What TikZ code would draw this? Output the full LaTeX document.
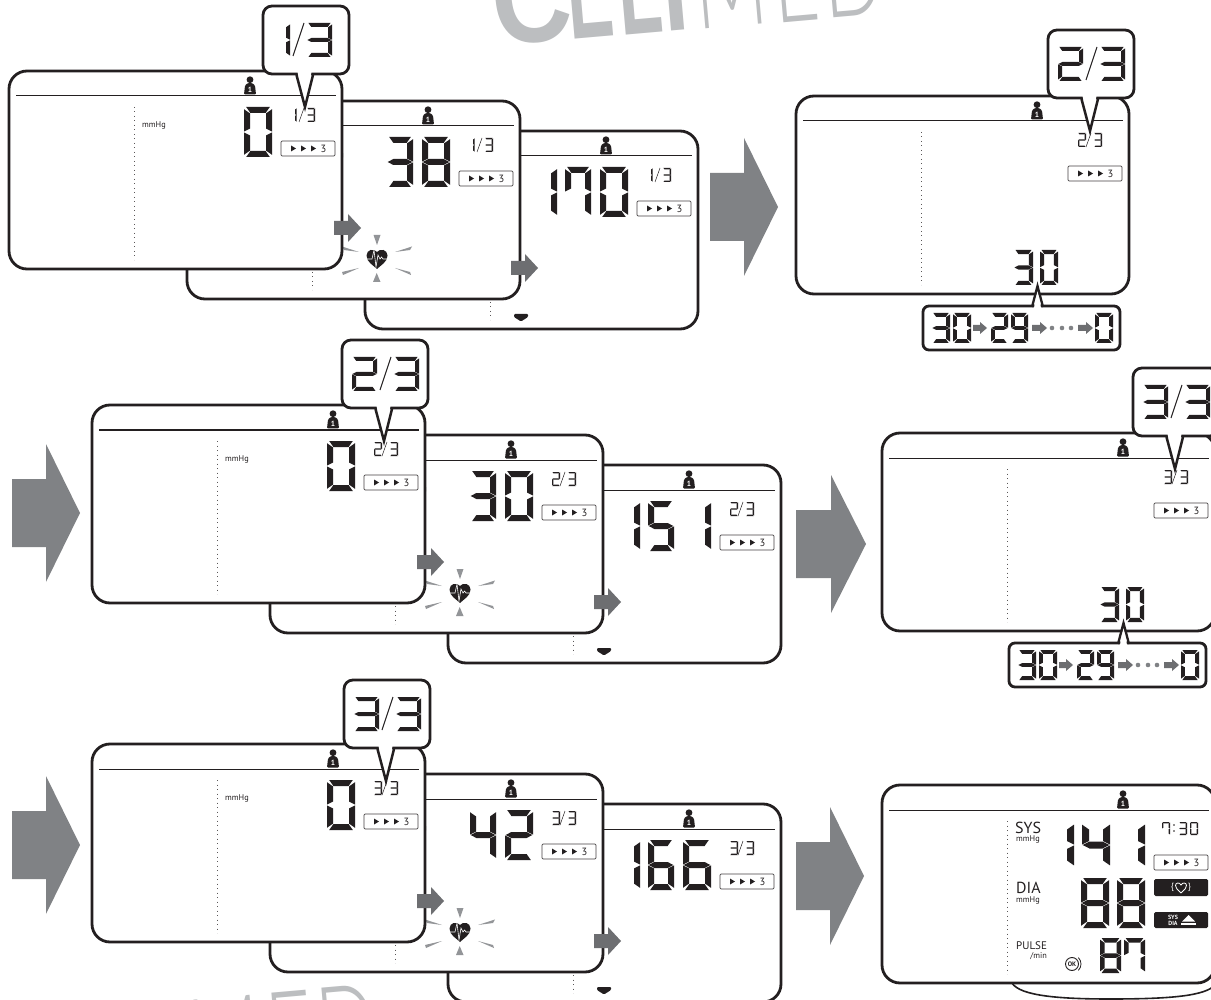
\documentclass[tikz,border=0pt]{standalone}
\usepackage{fontspec}
\setmainfont{PT Sans}
\newfontfamily\wmbold{Liberation Sans}
\newfontfamily\wmlight{Lato Light}
\definecolor{lcd}{HTML}{231F20}
\definecolor{wmgray}{HTML}{BCBEC0}
\definecolor{bigar}{HTML}{808285}
\definecolor{smar}{HTML}{6D6E71}
\definecolor{raygray}{HTML}{939598}
\tikzset{
  panelbox/.style={draw=lcd,fill=white,line width=2.8pt,rounded corners=18pt},
  callbox/.style={draw=lcd,fill=white,line width=2.8pt,rounded corners=9pt},
  headline/.style={draw=lcd,line width=1pt},
  dotline/.style={draw=lcd!75,line width=.9pt,dash pattern=on .9pt off 3.6pt},
  wmbig/.style={text=wmgray,inner sep=0pt,anchor=base west,font=\wmbold\bfseries\fontsize{130}{130}\selectfont},
  wmthin/.style={text=wmgray,inner sep=0pt,anchor=base west,font=\wmlight\fontsize{130}{130}\selectfont},
}
\expandafter\def\csname dg0\endcsname{a,b,c,d,e,f}
\expandafter\def\csname dg1\endcsname{b,c}
\expandafter\def\csname dg2\endcsname{a,b,g,e,d}
\expandafter\def\csname dg3\endcsname{a,b,g,c,d}
\expandafter\def\csname dg4\endcsname{f,g,b,c}
\expandafter\def\csname dg5\endcsname{a,f,g,c,d}
\expandafter\def\csname dg6\endcsname{a,f,g,c,d,e}
\expandafter\def\csname dg7\endcsname{a,b,c,f}
\expandafter\def\csname dg8\endcsname{a,b,c,d,e,f,g}
\expandafter\def\csname dg9\endcsname{a,b,c,d,f,g}
\newcommand{\sega}{\fill[lcd] (\dC,0) -- ({\dW-\dC},0) -- ({\dW-\dT-\dG},\dT) -- ({\dT+\dG},\dT) -- cycle;}
\newcommand{\segd}{\fill[lcd] (\dC,\dH) -- ({\dW-\dC},\dH) -- ({\dW-\dT-\dG},{\dH-\dT}) -- ({\dT+\dG},{\dH-\dT}) -- cycle;}
\newcommand{\segf}{\fill[lcd] (0,\dC) -- (\dT,{\dT+\dG}) -- (\dT,{\dH/2-\dT/2-\dG}) -- (0,{\dH/2-\dG}) -- cycle;}
\newcommand{\sege}{\fill[lcd] (0,{\dH-\dC}) -- (\dT,{\dH-\dT-\dG}) -- (\dT,{\dH/2+\dT/2+\dG}) -- (0,{\dH/2+\dG}) -- cycle;}
\newcommand{\segb}{\fill[lcd] (\dW,\dC) -- ({\dW-\dT},{\dT+\dG}) -- ({\dW-\dT},{\dH/2-\dT/2-\dG}) -- (\dW,{\dH/2-\dG}) -- cycle;}
\newcommand{\segc}{\fill[lcd] (\dW,{\dH-\dC}) -- ({\dW-\dT},{\dH-\dT-\dG}) -- ({\dW-\dT},{\dH/2+\dT/2+\dG}) -- (\dW,{\dH/2+\dG}) -- cycle;}
\newcommand{\segg}{\fill[lcd] ({\dG+.2},{\dH/2}) -- ({\dT+\dG},{\dH/2-\dT/2}) -- ({\dW-\dT-\dG},{\dH/2-\dT/2}) -- ({\dW-\dG-.2},{\dH/2}) -- ({\dW-\dT-\dG},{\dH/2+\dT/2}) -- ({\dT+\dG},{\dH/2+\dT/2}) -- cycle;}
\newcommand{\sd}[6]{%
  \begin{scope}[shift={(#1,#2)}]
    \def\dW{#3}\def\dH{#4}\def\dT{#5}%
    \pgfmathsetmacro\dG{0.07*#5}%
    \pgfmathsetmacro\dC{0.3*#5+\dG}%
    \expandafter\let\expandafter\dL\csname dg#6\endcsname
    \foreach \sgm in \dL {\csname seg\sgm\endcsname}
  \end{scope}}
\newcommand{\garrow}[7]{%
  \fill[#7] (#1,{#2-#5}) -- ({#1+#4},{#2-#5}) -- ({#1+#4},{#2-#6}) -- ({#1+#3},#2) -- ({#1+#4},{#2+#6}) -- ({#1+#4},{#2+#5}) -- (#1,{#2+#5}) -- cycle;}
\newcommand{\person}{%
  \fill[lcd] (241,8.7) circle (3.4);
  \fill[lcd,rounded corners=1pt] (235,23.5) -- (236,14.5) -- (238.5,12.2) -- (243.5,12.2) -- (246,14.5) -- (247,23.5) -- cycle;
  \node[text=white,inner sep=0pt,font=\bfseries\fontsize{7.5}{7.5}\selectfont] (pid) at (241,18.4) {1};}
\newcommand{\indbox}{%
  \draw[lcd!85,fill=white,line width=.7pt,rounded corners=1.2pt] (272,70) rectangle (326,85);
  \foreach \tx in {282,292,302} {\fill[lcd] (\tx,74.5) -- (\tx+5,77.5) -- (\tx,80.5) -- cycle;}
  \node[text=lcd,inner sep=0pt,font=\fontsize{10.5}{10.5}\selectfont] (ind) at (314.5,77.5) {3};}
\newcommand{\panel}[3]{%
  \begin{scope}[shift={(#1,#2)}]
    \path[panelbox] (0,0) rectangle (333,198);
    \draw[headline] (7,25) -- (327,25);
    \draw[dotline] (125,36) -- (125,189);
    \person
    \indbox
    #3
  \end{scope}}
\newcommand{\mmhg}{\node[text=lcd,inner sep=0pt,anchor=west,font=\fontsize{8.3}{8.3}\selectfont] (mm) at (133,54.5) {mmHg};}
\newcommand{\smfrac}[1]{%
  \ifnum#1=1 \sd{279.5}{37}{8}{14}{1.3}{1}\else\sd{282}{37}{8}{14}{1.3}{#1}\fi
  \draw[lcd,line width=.5pt] (290,51) -- (295,37);
  \sd{298}{37}{8}{14}{1.3}{3}}
\newcommand{\hund}[1]{\sd{164}{36}{28}{50}{6}{#1}}
\newcommand{\tens}[1]{\sd{200}{36}{26}{50}{6}{#1}}
\newcommand{\units}[1]{\sd{235}{36}{28}{50}{6}{#1}}
\newcommand{\callout}[3]{%
  \begin{scope}[shift={(#1,#2)}]
    \path[callbox] (0,0) rectangle (86,68);
    \fill[white] (34.5,66) -- (42,100) -- (48.5,66) -- cycle;
    \draw[lcd,line width=2.5pt,line join=miter] (33.5,69) -- (42,101) -- (50,69);
    \ifnum#3=1
      \sd{2}{17}{25}{34}{4}{1}
      \draw[lcd,line width=1pt] (30,50) -- (41,17);
      \sd{44}{17}{25}{34}{4}{3}
    \else
      \sd{10}{17}{25}{34}{4}{#3}
      \draw[lcd,line width=1pt] (38,50) -- (49,17);
      \sd{52}{17}{25}{34}{4}{3}
    \fi
  \end{scope}}
\newcommand{\countbox}{%
  \sd{218}{154}{19}{35}{4.2}{3}
  \sd{244}{154}{18}{35}{4.2}{0}
  \begin{scope}[shift={(127,210)}]
    \path[callbox,rounded corners=6pt] (0,0) rectangle (197,44);
    \fill[white] (111,2) -- (114.5,-18) -- (118,2) -- cycle;
    \draw[lcd,line width=2.3pt,line join=miter] (109,1) -- (114.5,-20) -- (120,1);
    \sd{9}{7}{18}{30}{3.8}{3}
    \sd{30}{7}{18}{30}{3.8}{0}
    \garrow{50}{22}{14}{7}{3}{6}{smar}
    \sd{68}{7}{17}{30}{3.8}{2}
    \sd{88}{7}{17}{30}{3.8}{9}
    \garrow{109}{22}{15}{8}{3}{6}{smar}
    \foreach \dx in {129,139,148} {\fill[bigar] (\dx,22) circle (2.3);}
    \garrow{155}{22}{15}{8}{3}{6}{smar}
    \sd{172}{7}{18}{30}{3.8}{0}
  \end{scope}}
\newcommand{\heartray}{%
  \fill[raygray] (-3.5,-23) -- (3.5,-23) -- (0,-13) -- cycle;
  \fill[raygray] (-4,24) -- (3.5,24) -- (-.3,15) -- cycle;
  \fill[raygray] (-35,-11.5) -- (-18,-6) -- (-33,-8) -- cycle;
  \fill[raygray] (35,-11.5) -- (18,-6) -- (33,-8) -- cycle;
  \fill[raygray] (-35,14) -- (-18,10) -- (-34,17) -- cycle;
  \fill[raygray] (34,17) -- (18,10) -- (33,14) -- cycle;
  \fill[lcd] (0,11) .. controls (-4,7) and (-10.5,4) .. (-10.5,-2.5) .. controls (-10.5,-8.5) and (-3,-10) .. (0,-6) .. controls (3,-10) and (10.5,-8.5) .. (10.5,-2.5) .. controls (10.5,4) and (4,7) .. (0,11) -- cycle;
  \draw[white,line width=.6pt] (-10,1) -- (-5,1) -- (-3,-8) -- (-1,9) -- (1,-3) -- (3,1) -- (4.5,-1) -- (6,1) -- (10,1);}
\newcommand{\downmark}{\fill[lcd,rounded corners=1pt] (149,183) -- (163,183) -- (163,186) -- (156,190.5) -- (149,186) -- cycle;}
\newcommand{\triple}[7]{%
  \panel{#1+356}{#2+60}{\smfrac{#3}\hund{#4}\tens{#5}\units{#6}\downmark}
  \panel{#1+178}{#2+30}{\mmhg\smfrac{#3}#7\begin{scope}[shift={(190,157)}]\heartray\end{scope}}
  \panel{#1}{#2}{\mmhg\smfrac{#3}\units{0}}
  \begin{scope}[shift={(#1,#2)}]
    \garrow{325}{157}{27}{14}{7}{14}{smar}
    \garrow{502}{197}{27}{14}{7}{14}{smar}
  \end{scope}}
\begin{document}
\begin{tikzpicture}[x=1pt,y=-1pt]
\useasboundingbox (0,0) rectangle (1211,1000);
\clip (0,0) rectangle (1211,1000);
\fill[white] (0,0) rectangle (1211,1000);
\node[wmbig,rotate=5,xscale=.85] (wmC) at (495,46) {C};
\node[wmbig,rotate=5,xscale=.53] (wmE) at (570,40) {E};
\node[wmbig,rotate=5,xscale=.55] (wmL) at (621,35.5) {L};
\node[wmbig,rotate=5,xscale=.7] (wmI) at (665,32) {I};
\node[wmthin,rotate=5,xscale=.62] (wmM) at (697,30) {M};
\node[wmthin,rotate=5,xscale=.62] (wmE2) at (775,23.5) {E};
\node[wmthin,rotate=5,xscale=.62] (wmD) at (825,19) {D};
\node[wmthin,rotate=5,xscale=.62] (wbM) at (193,1093) {M};
\node[wmthin,rotate=5,xscale=.62] (wbE) at (271,1086) {E};
\node[wmthin,rotate=5,xscale=.62] (wbD) at (321,1081) {D};
% row 1
\triple{9}{71}{1}{1}{7}{0}{\tens{3}\units{8}}
\callout{263}{6}{1}
\garrow{710}{207}{68}{34}{34}{69}{bigar}
\panel{796}{96}{\smfrac{2}\countbox}
\callout{1048}{30}{2}
% row 2
\garrow{12}{513}{68}{34}{34}{69}{bigar}
\triple{92}{405}{2}{1}{5}{1}{\tens{3}\units{0}}
\callout{342}{340}{2}
\garrow{796}{544}{70}{35}{34}{69}{bigar}
\panel{882}{433}{\smfrac{3}\countbox}
\callout{1133}{368}{3}
% row 3
\garrow{12}{845}{68}{34}{34}{69}{bigar}
\triple{92}{744}{3}{1}{6}{6}{\tens{4}\units{2}}
\callout{344}{680}{3}
\garrow{796}{876}{68}{34}{34}{69}{bigar}
% final panel
\draw[lcd,line width=1.6pt] (1012,983) .. controls (1020,996) and (1060,999) .. (1110,999) .. controls (1170,999) and (1205,996) .. (1215,985);
\panel{882}{785}{%
  \node[text=lcd,inner sep=0pt,anchor=base west,font=\fontsize{16}{16}\selectfont] (sys) at (133,48) {SYS};
  \node[text=lcd,inner sep=0pt,anchor=base west,font=\fontsize{8.3}{8.3}\selectfont] (sysu) at (134,56) {mmHg};
  \node[text=lcd,inner sep=0pt,anchor=base west,font=\fontsize{16}{16}\selectfont] (dia) at (134,108) {DIA};
  \node[text=lcd,inner sep=0pt,anchor=base west,font=\fontsize{8.3}{8.3}\selectfont] (diau) at (134,117) {mmHg};
  \node[text=lcd,inner sep=0pt,anchor=base west,font=\fontsize{11}{11}\selectfont] (pulse) at (134,164) {PULSE};
  \node[text=lcd,inner sep=0pt,anchor=base east,font=\fontsize{8.3}{8.3}\selectfont] (pulseu) at (165,173) {/min};
  \sd{164}{37}{28}{46}{7}{1}
  \sd{200}{37}{28}{46}{7}{4}
  \sd{235}{37}{28}{46}{7}{1}
  \sd{199}{93}{28}{50}{6}{8}
  \sd{235}{93}{28}{50}{6}{8}
  \sd{218}{153}{21}{35}{4.5}{8}
  \sd{242}{153}{21}{35}{4.5}{7}
  \sd{280}{37}{8}{13}{1.4}{7}
  \fill[lcd] (292,40) circle (.8) (292,46) circle (.8);
  \sd{297}{37}{8}{13}{1.4}{3}
  \sd{308}{37}{8}{13}{1.4}{0}
  % OK button
  \draw[lcd,line width=.9pt] (190,179) circle (6.5);
  \draw[lcd,line width=.8pt] (190,179) ++(-45:9) arc (-45:45:9);
  \node[text=lcd,inner sep=0pt,font=\bfseries\fontsize{6.5}{6.5}\selectfont] (okb) at (190,179) {OK};
  % heart box
  \fill[lcd,rounded corners=1.5pt] (272,94) rectangle (326,111);
  \draw[white,line width=.8pt] (299,108) .. controls (295,104) and (293.5,103) .. (293.5,100.5) .. controls (293.5,97.5) and (297.5,97) .. (299,100) .. controls (300.5,97) and (304.5,97.5) .. (304.5,100.5) .. controls (304.5,103) and (303,104) .. (299,108);
  \node[text=white,inner sep=0pt,font=\fontsize{9}{9}\selectfont] (hl) at (290.5,102) {\{};
  \node[text=white,inner sep=0pt,font=\fontsize{9}{9}\selectfont] (hr) at (307.5,102) {\}};
  % sys dia box
  \fill[lcd,rounded corners=1.5pt] (272,127) rectangle (326,143);
  \node[text=white,inner sep=0pt,align=center,font=\bfseries\fontsize{6}{5.8}\selectfont] (sd) at (291,135) {SYS\\DIA};
  \fill[white] (300,136.5) -- (306.5,130) -- (313,136.5) -- cycle;
  \fill[white] (299,138.3) rectangle (314,139.5);
}
\end{tikzpicture}
\end{document}
